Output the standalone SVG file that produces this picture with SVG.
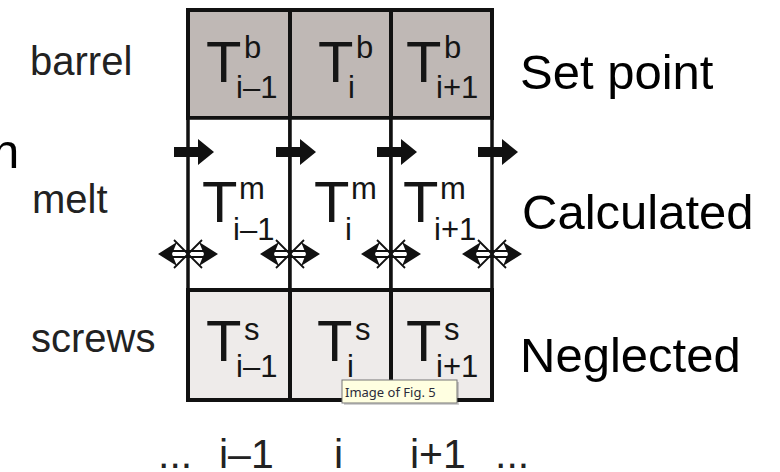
<svg xmlns="http://www.w3.org/2000/svg" width="780" height="472" viewBox="0 0 780 472">
<style>
  .lbl{font-family:"Liberation Sans",Arial,sans-serif;font-size:40px;fill:#222}
  .big{font-family:"Liberation Sans",Arial,sans-serif;font-size:49px;fill:#000}
  .T{font-family:"Liberation Sans",Arial,sans-serif;font-size:58px;fill:#151515}
  .s{font-family:"Liberation Sans",Arial,sans-serif;font-size:31px;fill:#151515}
  .bar{fill:#bfb8b5;stroke:#111;stroke-width:4}
  .mel{fill:#fff;stroke:#111;stroke-width:3.5}
  .scr{fill:#eeebea;stroke:#111;stroke-width:4}
  .ax{font-family:"Liberation Sans",Arial,sans-serif;font-size:41px;fill:#222}
</style>
<defs>
  <path id="ra" d="M-14,-5 H10 V-13 L26,0 L10,13 V5 H-14 Z" fill="#111"/>
  <g id="da">
    <path d="M-16,-3 H16 M-16,3 H16" stroke="#111" stroke-width="2" fill="none"/>
    <path d="M-14,-14 Q-4,-4 0,0 Q4,4 14,14 M-14,14 Q-4,4 0,0 Q4,-4 14,-14" stroke="#111" stroke-width="1.8" fill="none"/>
    <path d="M-30,0 L-11,-12 L-16,0 L-11,12 Z" fill="#111"/>
    <path d="M30,0 L11,-12 L16,0 L11,12 Z" fill="#111"/>
  </g>
</defs>
<rect width="780" height="472" fill="#fff"/>

<g id="barrel-row">
  <g id="cell-b-im1"><rect class="bar" x="188" y="10" width="102" height="108"/>
    <text class="T" x="206" y="82">T</text><text class="s" x="244" y="58">b</text><text class="s" x="236" y="98">i–1</text></g>
  <g id="cell-b-i"><rect class="bar" x="290" y="10" width="101" height="108"/>
    <text class="T" x="318" y="82">T</text><text class="s" x="356" y="58">b</text><text class="s" x="348" y="98">i</text></g>
  <g id="cell-b-ip1"><rect class="bar" x="391" y="10" width="101" height="108"/>
    <text class="T" x="406" y="82">T</text><text class="s" x="444" y="58">b</text><text class="s" x="436" y="98">i+1</text></g>
</g>

<g id="melt-row">
  <g id="cell-m-im1"><rect class="mel" x="188" y="118" width="102" height="172"/>
    <text class="T" x="202" y="222">T</text><text class="s" x="239" y="199">m</text><text class="s" x="233" y="240">i–1</text></g>
  <g id="cell-m-i"><rect class="mel" x="290" y="118" width="101" height="172"/>
    <text class="T" x="314" y="222">T</text><text class="s" x="351" y="199">m</text><text class="s" x="345" y="240">i</text></g>
  <g id="cell-m-ip1"><rect class="mel" x="391" y="118" width="101" height="172"/>
    <text class="T" x="403" y="222">T</text><text class="s" x="440" y="199">m</text><text class="s" x="434" y="240">i+1</text></g>
</g>

<g id="screws-row">
  <g id="cell-s-im1"><rect class="scr" x="188" y="290" width="102" height="110"/>
    <text class="T" x="206" y="361">T</text><text class="s" x="244" y="340">s</text><text class="s" x="236" y="377">i–1</text></g>
  <g id="cell-s-i"><rect class="scr" x="290" y="290" width="101" height="110"/>
    <text class="T" x="317" y="361">T</text><text class="s" x="355" y="340">s</text><text class="s" x="347" y="377">i</text></g>
  <g id="cell-s-ip1"><rect class="scr" x="391" y="290" width="101" height="110"/>
    <text class="T" x="406" y="361">T</text><text class="s" x="444" y="340">s</text><text class="s" x="436" y="377">i+1</text></g>
</g>

<g id="connectors">
  <use href="#ra" x="188" y="152"/>
  <use href="#ra" x="290" y="152"/>
  <use href="#ra" x="391" y="152"/>
  <use href="#ra" x="492" y="152"/>
  <use href="#da" x="188" y="254"/>
  <use href="#da" x="290" y="254"/>
  <use href="#da" x="391" y="254"/>
  <use href="#da" x="492" y="254"/>
</g>

<g id="row-labels">
  <text class="lbl" x="30" y="75">barrel</text>
  <text class="lbl" x="32" y="213">melt</text>
  <text class="lbl" x="31" y="352">screws</text>
  <text class="big" x="-8" y="168">n</text>
</g>

<g id="status-labels">
  <text class="big" x="520" y="89">Set point</text>
  <text class="big" x="522" y="229">Calculated</text>
  <text class="big" x="520" y="372">Neglected</text>
</g>

<g id="axis-labels">
  <text class="ax" x="158" y="468">...</text>
  <text class="ax" x="219" y="468">i–1</text>
  <text class="ax" x="334" y="468">i</text>
  <text class="ax" x="410" y="468">i+1</text>
  <text class="ax" x="495" y="468">...</text>
</g>

<g id="tooltip">
  <rect x="344" y="382" width="115" height="23" fill="#000" opacity="0.18"/>
  <rect x="342" y="380" width="115" height="23" fill="#ffffe1" stroke="#767676" stroke-width="1"/>
  <text x="345" y="397" font-family="'Noto Sans','Open Sans',sans-serif" font-size="13" fill="#2b2b3a">Image of Fig. 5</text>
</g>
</svg>
